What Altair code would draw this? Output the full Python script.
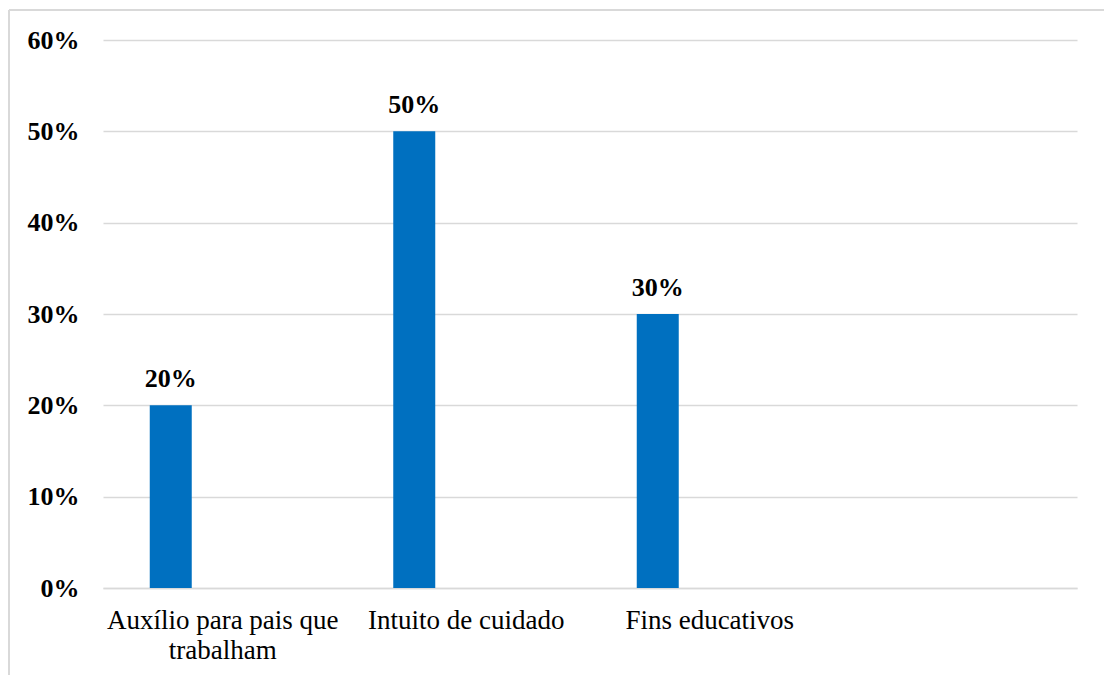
import altair as alt
import pandas as pd

# Survey categories and the share of answers for each
categories = ["Auxílio para pais que trabalham", "Intuito de cuidado", "Fins educativos"]
shares = [0.20, 0.50, 0.30]
# the fourth slot on the axis is an empty category
axis_domain = categories + [""]

df = pd.DataFrame({"categoria": categories, "valor": shares})

FONT = "Liberation Serif"
GRID = "#d9d9d9"

x_enc = alt.X(
    "categoria:N",
    sort=axis_domain,
    scale=alt.Scale(domain=axis_domain, paddingInner=0, paddingOuter=0),
    axis=alt.Axis(
        title=None,
        labelAngle=0,
        labelFont=FONT,
        labelFontSize=27,
        labelColor="#000000",
        labelPadding=19,
        labelLineHeight=30,
        labelLimit=400,
        labelOffset=-2,
        labelExpr="datum.label == 'Auxílio para pais que trabalham' ? ['Auxílio para pais que', 'trabalham'] : datum.label",
        ticks=False,
        domain=True,
        domainColor=GRID,
        domainWidth=1.5,
    ),
)

y_enc = alt.Y(
    "valor:Q",
    scale=alt.Scale(domain=[0, 0.6], nice=False),
    axis=alt.Axis(
        title=None,
        format=".0%",
        values=[0, 0.1, 0.2, 0.3, 0.4, 0.5, 0.6],
        labelFont=FONT,
        labelFontSize=26,
        labelFontWeight="bold",
        labelColor="#000000",
        labelPadding=24,
        ticks=False,
        domain=False,
        grid=True,
        gridColor=GRID,
        gridWidth=1.5,
    ),
)

bars = alt.Chart(df).mark_bar(color="#0070C0", size=42, xOffset=-54).encode(x=x_enc, y=y_enc)

labels = alt.Chart(df).mark_text(
    font=FONT,
    fontSize=26,
    fontWeight="bold",
    color="#000000",
    baseline="alphabetic",
    dy=-18,
    xOffset=-54,
).encode(x=x_enc, y=y_enc, text=alt.Text("valor:Q", format=".0%"))

# light frame around the whole chart (left and top edges)
frame_left = alt.Chart(df).mark_rule(color=GRID, strokeWidth=1.5, clip=False).encode(
    x=alt.value(-94), y=alt.value(-30), y2=alt.value(700)
)
frame_top = alt.Chart(df).mark_rule(color=GRID, strokeWidth=1.5, clip=False).encode(
    x=alt.value(-94), x2=alt.value(1100), y=alt.value(-30)
)

chart = (
    alt.layer(bars, labels, frame_left, frame_top)
    .properties(
        width=974,
        height=548,
        padding={"left": 103, "top": 40, "right": 27, "bottom": 87},
        autosize=alt.AutoSizeParams(type="none"),
        background="#ffffff",
    )
    .configure_view(stroke=None)
)

chart.save("out.html", embed_options={"renderer": "svg", "actions": False})
